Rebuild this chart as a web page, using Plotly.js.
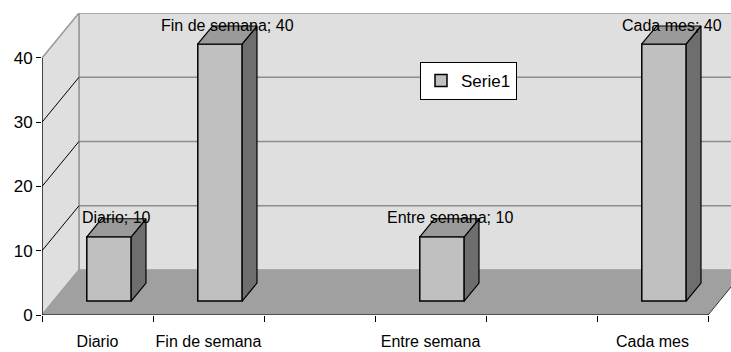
<!DOCTYPE html>
<html>
<head>
<meta charset="utf-8">
<script src="https://cdn.plot.ly/plotly-3.0.1.min.js"></script>
<style>html,body{margin:0;padding:0;background:#fff}#chart{width:731px;height:352px}</style>
</head>
<body>
<div id="chart"></div>
<script>
// ---- data ----
var categories = ["Diario", "Fin de semana", "", "Entre semana", "", "Cada mes"];
var values = [10, 40, null, 10, null, 40];
var seriesName = "Serie1";
var yTicks = [0, 10, 20, 30, 40];

// ---- pseudo-3D geometry (in axis units) ----
var DX = 0.333, DY = 7;          // full depth offset of the walls
var F1 = 0.311, F2 = 0.711;      // bar front / back depth fractions
var HW = 0.2;                    // half bar width
var shiftX = F1 * DX, baseY = F1 * DY;
var ddx = (F2 - F1) * DX, ddy = (F2 - F1) * DY;
var nCat = categories.length;
var idx = categories.map(function (c, i) { return i; });

var font = "'Liberation Sans Narrow','Arial Narrow','Liberation Sans',Arial,sans-serif";
var FS = 15;

var traces = [];
var barX = [], barY = [];
idx.forEach(function (i) {
  if (values[i] !== null) { barX.push(i + shiftX); barY.push(values[i]); }
});
traces.push({
  type: 'bar', x: barX, y: barY, base: baseY, width: 2 * HW, name: seriesName,
  marker: { color: '#c0c0c0', line: { color: '#000', width: 1.5 } },
  hoverinfo: 'skip', showlegend: true
});
var annotations = [];
idx.forEach(function (i) {
  var v = values[i];
  if (v === null) return;
  var xl = i + shiftX - HW, xr = i + shiftX + HW, b = baseY, t = baseY + v;
  traces.push({
    type: 'scatter', mode: 'lines', fill: 'toself', fillcolor: '#6e6e6e',
    x: [xr, xr + ddx, xr + ddx, xr, xr], y: [b, b + ddy, t + ddy, t, b],
    line: { color: '#000', width: 1.2 }, showlegend: false, hoverinfo: 'skip'
  });
  traces.push({
    type: 'scatter', mode: 'lines', fill: 'toself', fillcolor: '#9a9a9a',
    x: [xl, xr, xr + ddx, xl + ddx, xl], y: [t, t, t + ddy, t + ddy, t],
    line: { color: '#000', width: 1.2 }, showlegend: false, hoverinfo: 'skip'
  });
  annotations.push({
    x: i + shiftX + 0.07, y: t + ddy, xref: 'x', yref: 'y',
    text: categories[i] + '; ' + v, showarrow: false, yanchor: 'middle', yshift: 1,
    font: { family: font, size: FS + 1, color: '#000' }
  });
});

// ---- walls / floor as shapes ----
var x0 = -0.5, x1 = nCat - 0.5, far = 7;
var shapes = [];
shapes.push({ type: 'path', layer: 'below', xref: 'x', yref: 'y',
  path: 'M' + (x0 + DX) + ',' + DY + ' L' + far + ',' + DY + ' L' + far + ',' + (40 + DY) + ' L' + (x0 + DX) + ',' + (40 + DY) + ' Z',
  fillcolor: '#dfdfdf', line: { color: '#999', width: 1.5 } });
shapes.push({ type: 'path', layer: 'below', xref: 'x', yref: 'y',
  path: 'M' + x0 + ',0 L' + (x0 + DX) + ',' + DY + ' L' + (x0 + DX) + ',' + (40 + DY) + ' L' + x0 + ',40 Z',
  fillcolor: '#dfdfdf', line: { color: '#999', width: 1.5 } });
yTicks.slice(1, 4).forEach(function (v) {
  shapes.push({ type: 'line', layer: 'below', xref: 'x', yref: 'y',
    x0: x0 + DX, x1: far, y0: v + DY, y1: v + DY, line: { color: '#8c8c8c', width: 1.5 } });
  shapes.push({ type: 'line', layer: 'below', xref: 'x', yref: 'y',
    x0: x0, x1: x0 + DX, y0: v, y1: v + DY, line: { color: '#000', width: 1 } });
});
shapes.push({ type: 'path', layer: 'below', xref: 'x', yref: 'y',
  path: 'M' + x0 + ',0 L' + x1 + ',0 L' + (x1 + DX) + ',' + DY + ' L' + (x0 + DX) + ',' + DY + ' Z',
  fillcolor: '#a0a0a0', line: { width: 0 } });
shapes.push({ type: 'line', layer: 'below', xref: 'x', yref: 'y',
  x0: x1, x1: x1 + DX, y0: 0, y1: DY, line: { color: '#333', width: 1 } });
shapes.push({ type: 'line', xref: 'x', yref: 'y', x0: x0, x1: x1, y0: 0, y1: 0, line: { color: '#000', width: 1.2 } });
shapes.push({ type: 'line', xref: 'x', yref: 'y', x0: x0, x1: x0, y0: 0, y1: 40, line: { color: '#000', width: 1.2 } });

var layout = {
  width: 731, height: 352,
  margin: { l: 42, r: 0, t: 13, b: 37, pad: 0 },
  paper_bgcolor: '#fff', plot_bgcolor: 'rgba(0,0,0,0)',
  font: { family: font, size: FS, color: '#000' },
  barmode: 'overlay',
  xaxis: {
    range: [-0.5, -0.5 + 689 / 111], tickmode: 'array', tickvals: idx, ticktext: categories,
    ticks: '', showgrid: false, zeroline: false, showline: false, fixedrange: true,
    ticklabelstandoff: 15,
    tickfont: { family: font, size: FS + 1, color: '#000' },
    minor: { tickmode: 'array', tickvals: idx.map(function (i) { return i - 0.5; }).concat([nCat - 0.5]),
      ticks: 'outside', ticklen: 6, tickcolor: '#000', tickwidth: 1, showgrid: false }
  },
  yaxis: {
    range: [0, 47], tickmode: 'array', tickvals: yTicks, ticktext: yTicks.map(String),
    ticks: 'outside', ticklen: 5, tickcolor: '#000', showgrid: false, zeroline: false,
    showline: false, fixedrange: true, tickfont: { family: font, size: FS + 2, color: '#000' }
  },
  shapes: shapes,
  annotations: annotations,
  showlegend: true,
  legend: {
    x: (420 - 42) / 689, y: (315 - 62) / 302, xanchor: 'left', yanchor: 'top',
    bgcolor: '#fff', bordercolor: '#000', borderwidth: 1,
    font: { family: font, size: FS + 2, color: '#000' }, itemwidth: 30
  }
};

Plotly.newPlot('chart', traces, layout, { displayModeBar: false, staticPlot: true });
</script>
</body>
</html>
